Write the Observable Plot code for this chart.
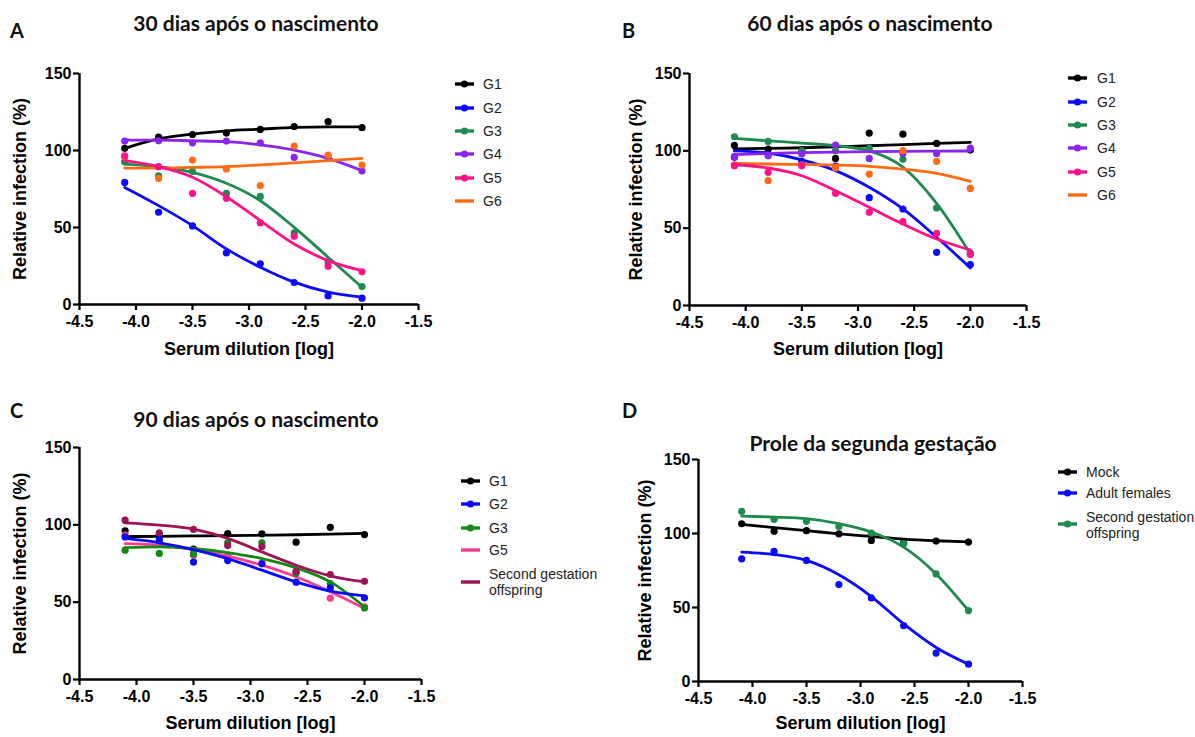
<!DOCTYPE html>
<html><head><meta charset="utf-8">
<script src="https://cdn.jsdelivr.net/npm/d3@7"></script>
<script src="https://cdn.jsdelivr.net/npm/@observablehq/plot@0.6"></script>
<style>
body{margin:0;background:#fff;width:1195px;height:737px;position:relative;overflow:hidden;font-family:"Liberation Sans",Arial,sans-serif;}
.panel{position:absolute;}
.title{position:absolute;font-family:Lato,"Open Sans",sans-serif;font-weight:bold;font-size:21px;color:#111;white-space:nowrap;transform:translate(-50%,-50%);}
.letter{position:absolute;font-family:Lato,"Open Sans",sans-serif;font-weight:bold;font-size:20px;color:#111;transform:translateY(-50%);}
.leg{position:absolute;font-size:14px;color:#222;line-height:16px;white-space:nowrap;}
.leg svg{position:absolute;}
</style></head>
<body>
<script>
// ---- shared axes ----
const dilution = [-4.1, -3.8, -3.5, -3.2, -2.9, -2.6, -2.3, -2.0];
const xTicks = [-4.5, -4.0, -3.5, -3.0, -2.5, -2.0, -1.5];
const yTicks = [0, 50, 100, 150];

// ---- Panel A: 30 dias ----
const A_G1 = [101.4,108.7,110.4,111.3,113.7,115.6,118.7,114.8];
const A_G1_fit = [101.4,107.5,110.6,112.8,113.9,115,115.4,115.4];
const A_G2 = [79.3,59.9,51,33.5,26.4,14.3,5.6,4.1];
const A_G2_fit = [76,64.2,51.2,36.1,24.2,14.5,8,4.8];
const A_G3 = [92.7,83.6,86.4,72.2,70.2,46.5,27.9,11.7];
const A_G3_fit = [91.2,89.5,85.8,78.7,67.4,50.1,30.7,11.2];
const A_G4 = [106.1,106.3,105,106.1,105,95.5,95.5,86.7];
const A_G4_fit = [106.8,106.8,106.3,105.7,103.7,100.3,94.9,86.9];
const A_G5 = [96.6,89.5,72.2,69,53,44.3,24.9,21.2];
const A_G5_fit = [93.4,89.5,82.6,70,54.5,39.3,28.5,22];
const A_G6 = [96,81.9,93.8,88,77.2,102.9,97,90.6];
const A_G6_fit = [88.6,88.6,89,89.5,90.6,92,93.4,94.9];

// ---- Panel B: 60 dias ----
const B_G1 = [103.5,101.1,100.5,95.1,111.5,110.8,104.8,100.5];
const B_G1_fit = [101.2,101.6,102,102.6,103.3,104,104.8,105.5];
const B_G2 = [95.8,97.5,93.2,90.2,69.7,62.4,34.4,26.5];
const B_G2_fit = [100,98.5,94.2,87.2,76.4,62.4,44.1,24.3];
const B_G3 = [109.1,106.1,100,100.1,101.6,94.5,63.1,33.8];
const B_G3_fit = [108,106.5,105,103.3,100,89.5,66,33.4];
const B_G4 = [96.4,96.8,98,103.7,95.1,98.3,98.3,101.8];
const B_G4_fit = [97.6,98.3,98.8,99.2,99.5,99.7,99.8,99.9];
const B_G5 = [90.4,86.1,90.4,72.5,60.3,54.2,46.7,32.9];
const B_G5_fit = [91,88.9,83.9,74.2,63.5,52.7,43,35.9];
const B_G6 = [91,80.7,91,88.9,85,100.1,93.2,75.7];
const B_G6_fit = [91.9,91.5,91.2,90.8,90,88.2,85.4,80.3];

// ---- Panel C: 90 dias ----
const C_G1 = [96.1,93.8,84.3,94.4,94.2,88.8,98.4,93.7];
const C_G1_fit = [92.4,92.6,92.8,93,93.3,93.6,94,94.5];
const C_G2 = [92.2,90.5,75.9,76.9,74.8,62.9,59.3,52.8];
const C_G2_fit = [91.2,88.4,84,78.2,70.7,63.1,57.1,54.1];
const C_G3 = [83.6,81.5,81,88.4,88.4,68.7,62,46.3];
const C_G3_fit = [85.3,85.8,84.7,82.1,78.2,72.2,63.1,47];
const C_G5 = [93.3,89,80.4,80,75.4,69,52.6,47];
const C_G5_fit = [87.9,86.9,84,79.7,73.9,66.4,56.7,45.9];
const C_SG = [103,94.8,97,86.6,86,70,67.9,63.5];
const C_SG_fit = [101.3,99.8,97.2,91.2,82.5,73.9,67,63.1];

// ---- Panel D: segunda gestação ----
const D_Mock = [106.6,101.6,101.9,99.8,95.3,93.7,94.9,94.2];
const D_Mock_fit = [106.2,103.9,101.9,99.8,98,96.2,95.1,94.4];
const D_AF = [82.9,87.9,81.8,65.5,56.5,37.7,19.2,11.7];
const D_AF_fit = [87.4,85.8,81.8,72.1,57.4,38.9,23,11.7];
const D_SG = [115,109.6,108.2,104.8,100.3,93.1,72.7,47.9];
const D_SG_fit = [111.8,111.1,110,106.6,101,90.8,72.7,47.9];

// colours
const cBlack = "#000000", cBlue = "#0a0aff", cGreen = "#1f8a4e", cPurple = "#8a24f0",
      cPink = "#ff1188", cOrange = "#ff6a12", cGreenC = "#138a13", cPinkC = "#ff3a95", cMaroon = "#9c1458";

const rows = (vals) => dilution.map((x, i) => ({x, y: vals[i]}));

function drawPanel(cfg) {
  const marks = [
    Plot.axisX({ticks: xTicks, tickFormat: d => d.toFixed(1), tickSize: 6, tickPadding: 5, strokeWidth: 2.2, label: null}),
    Plot.axisY({ticks: yTicks, tickFormat: d => String(d), tickSize: 6, tickPadding: 2, strokeWidth: 2.2, label: null}),
    Plot.ruleX([-4.5], {y1: 0, y2: 150, strokeWidth: 2.4}),
    Plot.ruleY([0], {x1: -4.5, x2: -1.5, strokeWidth: 2.4})
  ];
  for (const s of cfg.series) {
    marks.push(Plot.line(rows(s.fit), {x: "x", y: "y", stroke: s.color, strokeWidth: 2.8, curve: "monotone-x"}));
    marks.push(Plot.dot(rows(s.pts), {x: "x", y: "y", r: 3.6, fill: s.color, stroke: "none"}));
  }
  marks.push(Plot.text(["Relative infection (%)"], {text: d => d, frameAnchor: "left", textAnchor: "middle", lineAnchor: "middle", dx: cfg.yLabelDx, rotate: -90, fontSize: 18, fontWeight: "bold"}));
  marks.push(Plot.text(["Serum dilution [log]"], {text: d => d, frameAnchor: "bottom", dy: cfg.xLabelDy, fontSize: 18, fontWeight: "bold"}));
  const p = Plot.plot({
    width: cfg.width, height: cfg.height,
    marginLeft: cfg.m[0], marginRight: cfg.m[1], marginTop: cfg.m[2], marginBottom: cfg.m[3],
    x: {domain: [-4.5, -1.5]},
    y: {domain: [0, 150]},
    style: {fontFamily: '"Liberation Sans", Arial, sans-serif', fontSize: "16px", fontWeight: "bold", color: "#000", background: "transparent", overflow: "visible"},
    marks
  });
  const wrap = document.createElement("div");
  wrap.className = "panel";
  wrap.style.left = cfg.left + "px";
  wrap.style.top = cfg.top + "px";
  wrap.appendChild(p);
  document.body.appendChild(wrap);

  // title & letter
  const t = document.createElement("div");
  t.className = "title"; t.textContent = cfg.title;
  t.style.left = cfg.titleX + "px"; t.style.top = cfg.titleY + "px";
  document.body.appendChild(t);
  const l = document.createElement("div");
  l.className = "letter"; l.textContent = cfg.letter;
  l.style.left = cfg.letterX + "px"; l.style.top = cfg.letterY + "px";
  document.body.appendChild(l);

  // legend
  for (const it of cfg.legend) {
    const d = document.createElement("div");
    d.className = "leg";
    d.style.left = cfg.legX + "px";
    d.style.top = it.y + "px";
    const w = 19;
    d.innerHTML = `<svg width="${w}" height="10" style="left:0;top:${it.my - it.y - 5}px"><line x1="0" x2="${w}" y1="5" y2="5" stroke="${it.color}" stroke-width="3.4"/>${it.dot ? `<circle cx="${w/2}" cy="5" r="3.6" fill="${it.color}"/>` : ""}</svg><div style="position:absolute;left:${cfg.legTextDx}px;top:-8px">${it.label}</div>`;
    document.body.appendChild(d);
  }
}

drawPanel({
  left: 0, top: 0, width: 440, height: 370, m: [79, 22, 73, 66],
  yLabelDx: -59, xLabelDy: 50,
  title: "30 dias após o nascimento", titleX: 256, titleY: 22, letter: "A", letterX: 10, letterY: 30,
  series: [
    {pts: A_G1, fit: A_G1_fit, color: cBlack},
    {pts: A_G2, fit: A_G2_fit, color: cBlue},
    {pts: A_G3, fit: A_G3_fit, color: cGreen},
    {pts: A_G4, fit: A_G4_fit, color: cPurple},
    {pts: A_G6, fit: A_G6_fit, color: cOrange},
    {pts: A_G5, fit: A_G5_fit, color: cPink}
  ],
  legX: 455, legTextDx: 28,
  legend: [
    {label: "G1", color: cBlack, dot: true, y: 84, my: 84},
    {label: "G2", color: cBlue, dot: true, y: 108, my: 108},
    {label: "G3", color: cGreen, dot: true, y: 131, my: 131},
    {label: "G4", color: cPurple, dot: true, y: 154, my: 154},
    {label: "G5", color: cPink, dot: true, y: 178, my: 178},
    {label: "G6", color: cOrange, dot: false, y: 201, my: 201}
  ]
});

drawPanel({
  left: 610, top: 0, width: 440, height: 370, m: [79, 24, 73, 65],
  yLabelDx: -53, xLabelDy: 49,
  title: "60 dias após o nascimento", titleX: 870, titleY: 22, letter: "B", letterX: 622, letterY: 30,
  series: [
    {pts: B_G1, fit: B_G1_fit, color: cBlack},
    {pts: B_G2, fit: B_G2_fit, color: cBlue},
    {pts: B_G3, fit: B_G3_fit, color: cGreen},
    {pts: B_G4, fit: B_G4_fit, color: cPurple},
    {pts: B_G6, fit: B_G6_fit, color: cOrange},
    {pts: B_G5, fit: B_G5_fit, color: cPink}
  ],
  legX: 1068, legTextDx: 29,
  legend: [
    {label: "G1", color: cBlack, dot: true, y: 78, my: 78},
    {label: "G2", color: cBlue, dot: true, y: 102, my: 102},
    {label: "G3", color: cGreen, dot: true, y: 125, my: 125},
    {label: "G4", color: cPurple, dot: true, y: 148, my: 148},
    {label: "G5", color: cPink, dot: true, y: 172, my: 172},
    {label: "G6", color: cOrange, dot: false, y: 195, my: 195}
  ]
});

drawPanel({
  left: 0, top: 380, width: 440, height: 357, m: [79, 19, 67, 58],
  yLabelDx: -59, xLabelDy: 49,
  title: "90 dias após o nascimento", titleX: 256, titleY: 418, letter: "C", letterX: 10, letterY: 410,
  series: [
    {pts: C_G1, fit: C_G1_fit, color: cBlack},
    {pts: C_G5, fit: C_G5_fit, color: cPinkC},
    {pts: C_G3, fit: C_G3_fit, color: cGreenC},
    {pts: C_SG, fit: C_SG_fit, color: cMaroon},
    {pts: C_G2, fit: C_G2_fit, color: cBlue}
  ],
  legX: 461, legTextDx: 28,
  legend: [
    {label: "G1", color: cBlack, dot: true, y: 481, my: 481},
    {label: "G2", color: cBlue, dot: true, y: 504, my: 504},
    {label: "G3", color: cGreenC, dot: true, y: 528, my: 528},
    {label: "G5", color: cPinkC, dot: false, y: 550, my: 550},
    {label: "Second gestation<br>offspring", color: cMaroon, dot: false, y: 574, my: 582}
  ]
});

drawPanel({
  left: 620, top: 380, width: 420, height: 357, m: [78, 18, 79, 56],
  yLabelDx: -53, xLabelDy: 47,
  title: "Prole da segunda gestação", titleX: 873, titleY: 442, letter: "D", letterX: 622, letterY: 410,
  series: [
    {pts: D_Mock, fit: D_Mock_fit, color: cBlack},
    {pts: D_AF, fit: D_AF_fit, color: cBlue},
    {pts: D_SG, fit: D_SG_fit, color: cGreen}
  ],
  legX: 1058, legTextDx: 28,
  legend: [
    {label: "Mock", color: cBlack, dot: true, y: 472, my: 472},
    {label: "Adult females", color: cBlue, dot: true, y: 493, my: 493},
    {label: "Second gestation<br>offspring", color: cGreen, dot: true, y: 517, my: 524}
  ]
});
</script>
</body></html>
